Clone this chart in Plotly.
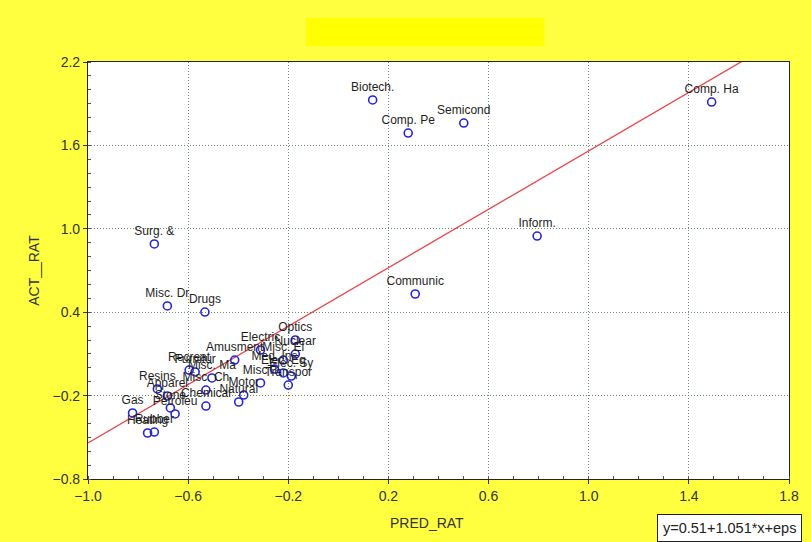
import plotly.graph_objects as go

labels = ["Comp. Ha", "Biotech.", "Semicond", "Comp. Pe", "Inform.", "Communic",
          "Surg. &", "Misc. Dr", "Drugs", "Optics", "Nuclear", "Electric",
          "Misc. El", "Amusment", "Med. Ins", "Elec. Sy", "Transpor", "MiscTr",
          "Motor", "Natural", "Furnitur", "Recreat", "Misc. Ma", "Resins",
          "Misc. Ch", "Apparel", "Gas", "Heating", "Rubber", "Stone",
          "Petroleu", "Chemical", "Elec. Eq"]
pred = [1.491, 0.137, 0.501, 0.279, 0.794, 0.307,
        -0.735, -0.683, -0.533, -0.172, -0.172, -0.311,
        -0.220, -0.414, -0.255, -0.188, -0.200, -0.311,
        -0.378, -0.398, -0.572, -0.596, -0.505, -0.723,
        -0.529, -0.683, -0.822, -0.762, -0.735, -0.671,
        -0.652, -0.529, -0.220]
act = [1.912, 1.927, 1.761, 1.689, 0.948, 0.531,
       0.891, 0.445, 0.401, 0.200, 0.099, 0.128,
       0.056, 0.056, -0.009, -0.059, -0.124, -0.109,
       -0.196, -0.246, -0.030, -0.016, -0.073, -0.152,
       -0.160, -0.203, -0.325, -0.469, -0.462, -0.289,
       -0.332, -0.275, -0.037]

intercept = 0.51
slope = 1.051
x_range = [-1.0, 1.8]
y_range = [-0.8, 2.2]

fig = go.Figure()
fig.add_trace(go.Scatter(
    x=x_range, y=[intercept + slope * v for v in x_range],
    mode="lines", line=dict(color="#e8454a", width=1.3),
    hoverinfo="skip", showlegend=False))
fig.add_trace(go.Scatter(
    x=pred, y=act, mode="markers+text", text=labels,
    textposition="top center",
    textfont=dict(family="Liberation Sans, Arial", size=12, color="#1e1e1e"),
    marker=dict(symbol="circle-open", size=8, color="#2424dc",
                line=dict(width=1.6, color="#2424dc")),
    showlegend=False))

grid = "#6f8a6f"
axis_common = dict(
    showgrid=True, gridcolor=grid, griddash="1px,2px", gridwidth=1,
    zeroline=False, showline=True, linecolor="#222", linewidth=1.2,
    mirror=True, ticks="outside", ticklen=4, tickcolor="#333",
    tickformat=".1f",
    tickfont=dict(family="Liberation Sans, Arial", size=14, color="#333"))
fig.update_xaxes(range=x_range, tick0=-1.0, dtick=0.4,
                 minor=dict(dtick=0.1, ticks="inside", ticklen=3, tickcolor="#555"),
                 **axis_common)
fig.update_yaxes(range=y_range, tick0=-0.8, dtick=0.6,
                 minor=dict(dtick=0.1, ticks="inside", ticklen=3, tickcolor="#555"),
                 **axis_common)

fig.update_layout(
    width=811, height=542,
    margin=dict(l=88, r=16, t=62, b=63),
    paper_bgcolor="#FFFF40", plot_bgcolor="white",
    font=dict(family="Liberation Sans, Arial", color="#333"),
    shapes=[dict(type="rect", xref="paper", yref="paper",
                 x0=0.311, x1=0.651, y0=1.0384, y1=1.1055,
                 fillcolor="#FFFF00", line=dict(width=0))],
    annotations=[
        dict(text="PRED_RAT", xref="paper", yref="paper", x=0.484, y=-0.1055,
             showarrow=False, xanchor="center", yanchor="middle",
             font=dict(size=14, color="#333")),
        dict(text="ACT__RAT", xref="paper", yref="paper", x=-0.078, y=0.5,
             showarrow=False, textangle=-90, xanchor="center", yanchor="middle",
             font=dict(size=14, color="#333")),
        dict(text="y=0.51+1.051*x+eps", xref="paper", yref="paper",
             x=1.018, y=-0.151, xanchor="right", yanchor="bottom",
             showarrow=False, bgcolor="white", bordercolor="#222",
             borderwidth=1, borderpad=5, font=dict(size=14.5, color="#222")),
    ],
)

fig.write_html("out.html")
